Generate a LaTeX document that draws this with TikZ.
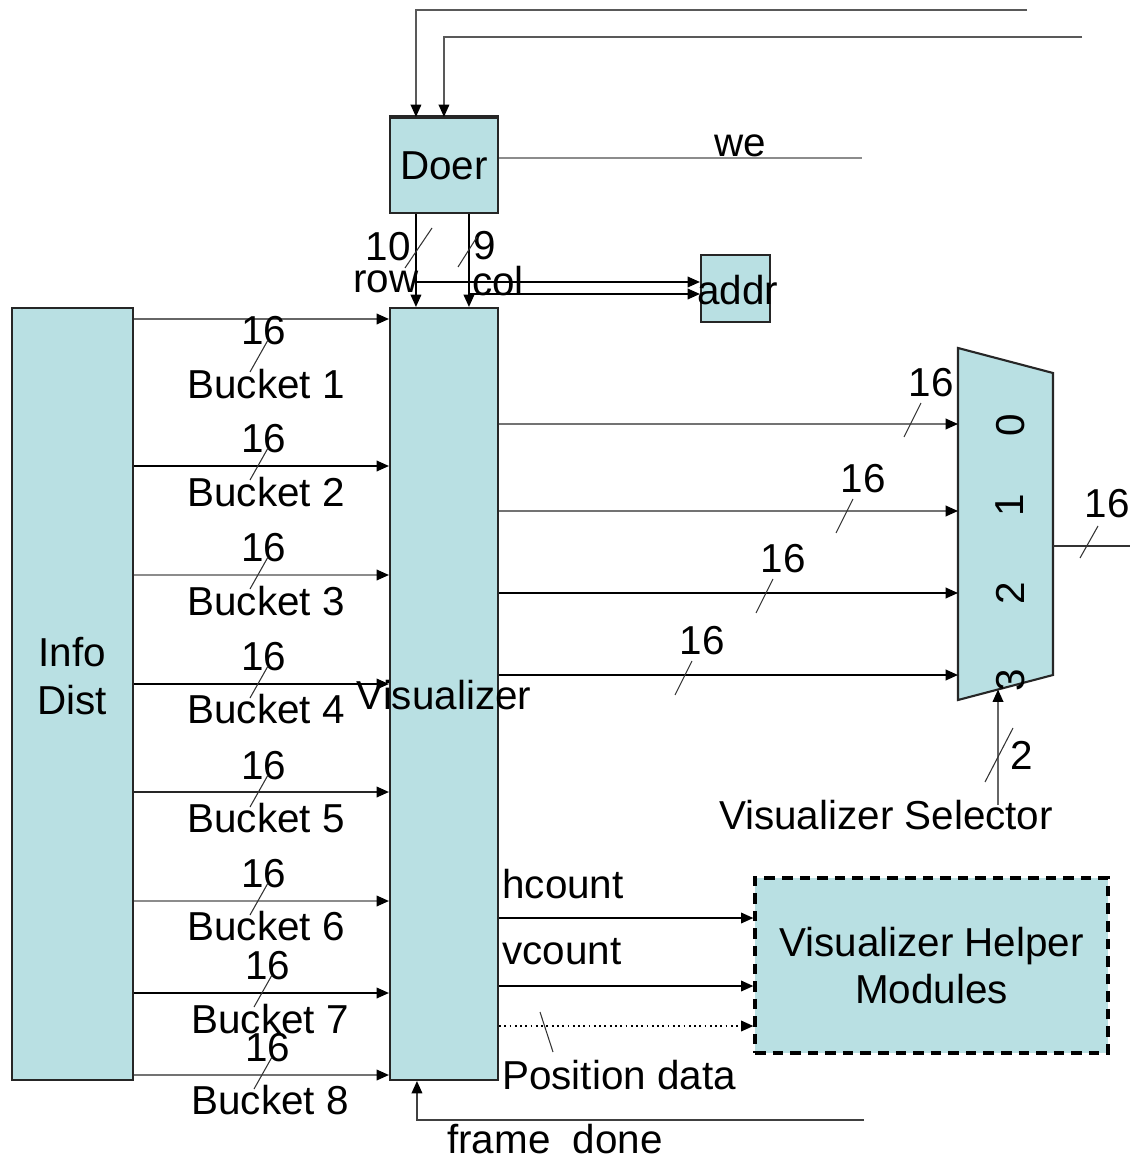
\documentclass[tikz,border=0pt]{standalone}
\usepackage{fontspec}
\setmainfont{Liberation Sans}
\usetikzlibrary{arrows.meta,calc}
\definecolor{boxfill}{RGB}{185,224,227}
\begin{document}
\begin{tikzpicture}[x=0.02cm,y=-0.02cm,
  every node/.style={font=\fontsize{23}{27}\selectfont},
  box/.style={draw=black!85, line width=1.2pt, fill=boxfill, inner sep=0pt},
  muxs/.style={draw=black!85, line width=1.2pt, fill=boxfill},
  lbl/.style={inner sep=0pt, text depth=0pt},
  arr/.style={line width=1pt, -{Triangle[length=7pt,width=6pt,color=black]}},
  wire/.style={line width=1pt},
  tick/.style={line width=0.6pt, draw=black!80},
]
\useasboundingbox (0,0) rectangle (1130,1158);

% boxes
\node[box, minimum width=2.42cm, minimum height=15.44cm] (info) at (72.5,694) {};
\node[box, minimum width=2.16cm, minimum height=15.44cm] (vis) at (444,694) {};
\node[box, minimum width=2.16cm, minimum height=1.9cm] (doer) at (444,165.5) {Doer};
\draw[line width=1.8pt, draw=black!85] (doer.north west) -- (doer.north east);
\node[box, minimum width=1.38cm, minimum height=1.34cm] (addr) at (735.5,288.5) {};
\node[box, draw=black, dash pattern=on 6pt off 4pt, line width=1.9pt, minimum width=7.06cm, minimum height=3.5cm, align=center] (helper) at (931.5,965.5) {Visualizer Helper\\Modules};

\node[lbl, align=center] (infol) at (72,676) {Info\\Dist};

% mux
\coordinate (m1) at (958,348);
\coordinate (m2) at (1053,373);
\coordinate (m3) at (1053,675);
\coordinate (m4) at (958,700);
\draw[muxs] (m1) -- (m2) -- (m3) -- (m4) -- cycle;
\foreach \d/\y in {0/425,1/505,2/593,3/680}
  \node[lbl, rotate=90] (dig\d) at (1010,\y) {\d};

% top wires into Doer
\coordinate (t1) at (1027,10);
\coordinate (t2) at (1082,37);
\draw[arr, draw=black!65] (t1) -| ($(doer.north west)+(27,0)$);
\draw[arr, draw=black!65] (t2) -| ($(doer.north west)+(55,0)$);

% we
\coordinate (weend) at (862,158);
\draw[wire, draw=black!45] (doer.east |- weend) -- (weend);
\node[lbl] (wel) at (740,146) {we};

% row / col
\draw[arr] ($(doer.south west)+(27,0)$) -- ($(vis.north west)+(27,0)$);
\draw[arr] ($(doer.south west)+(80,0)$) -- ($(vis.north west)+(80,0)$);
\coordinate (rowj) at (417,282);
\coordinate (colj) at (470,294);
\draw[arr] (rowj) -- (addr.west |- rowj);
\draw[arr] (colj) -- (addr.west |- colj);
\node[lbl] (n10) at (388,246) {10};
\node[lbl] (rowl) at (386,282) {row};
\node[lbl] (n9) at (485,245) {9};
\node[lbl] (coll) at (498,281) {col};
\draw[tick] (405,268) -- (432,228);
\draw[tick] (458,267) -- (477,237);

\node[lbl] (vislbl) at (444,695) {Visualizer};
\node[lbl] (addrl) at (737.5,290) {addr};

% buckets
\foreach \i/\ly/\sy/\by/\dx/\col in {
  1/319/330/384/0/black!60,
  2/466/438/492/0/black,
  3/575/547/601/0/black!45,
  4/684/656/709/0/black,
  5/792/765/818/0/black!85,
  6/901/873/926/0/black!45,
  7/993/965/1019/4/black,
  8/1075/1047/1100/4/black!55}{
  \coordinate (b\i) at (0,\ly);
  \draw[arr, draw=\col] (info.east |- b\i) -- (vis.west |- b\i);
  \node[lbl] (bn\i) at (264+\dx,\sy) {16};
  \node[lbl] (bl\i) at (266+\dx,\by) {Bucket \i};
  \draw[tick] (250+\dx,\sy+42) -- (268+\dx,\sy+10);
}

% visualizer outputs to mux
\foreach \i/\y/\lx/\ly/\col in {
  0/424/931/382/black!55,
  1/511/863/478/black!55,
  2/593/783/558/black,
  3/675/702/640/black}{
  \coordinate (in\i) at (958,\y);
  \draw[arr, draw=\col] (vis.east |- in\i) -- (in\i);
  \node[lbl] (on\i) at (\lx,\ly) {16};
  \draw[tick] (\lx-27,\ly+55) -- (\lx-10,\ly+21);
}

% mux output
\coordinate (mout) at (1053,546);
\coordinate (outend) at (1130,546);
\draw[wire, draw=black!80] (mout) -- (outend);
\node[lbl] (outn) at (1107,503) {16};
\draw[tick] (1080,558) -- (1098,526);

% selector
\node[lbl] (sell) at (886,815) {Visualizer Selector};
\coordinate (selin) at (998,689.5);
\coordinate (selbot) at (998,805);
\draw[arr, draw=black!60] (selbot) -- (selin);
\node[lbl] (seln) at (1022,755) {2};
\draw[tick] (985,782) -- (1013,728);

% helper connections
\coordinate (hy) at (0,918);
\coordinate (vy) at (0,986);
\coordinate (py) at (0,1026);
\draw[arr] (vis.east |- hy) -- (helper.west |- hy);
\draw[arr] (vis.east |- vy) -- (helper.west |- vy);
\draw[arr, dotted] (vis.east |- py) -- (helper.west |- py);
\node[lbl, anchor=west] (hl) at (502,884) {hcount};
\node[lbl, anchor=west] (vl) at (502,951) {vcount};
\node[lbl, anchor=west] (pl) at (502,1075) {Position data};
\draw[tick] (540,1012) -- (553,1052);

% frame done
\coordinate (fdend) at (864,1120);
\draw[arr, draw=black!75] (fdend) -| ($(vis.south west)+(28,0)$);
\node[lbl] (fdl) at (555,1139) {frame\ \ done};
\end{tikzpicture}
\end{document}
